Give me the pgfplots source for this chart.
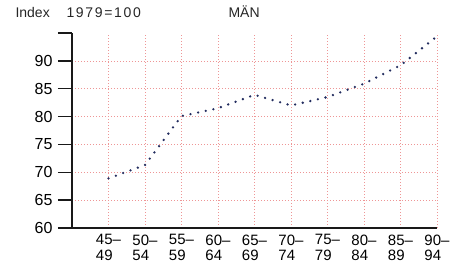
\documentclass[border=0pt]{standalone}
\usepackage{fontspec}
\setmainfont{Liberation Sans}
\usepackage{pgfplots}
\pgfplotsset{compat=1.18}
\definecolor{dotblue}{RGB}{35,45,95}
\definecolor{gridred}{RGB}{238,150,150}
\begin{document}
\begin{tikzpicture}
\useasboundingbox (-72pt,-37pt) rectangle (387pt,228pt);
\begin{axis}[
  at={(0,0)}, anchor=south west,
  scale only axis, width=365pt, height=195pt,
  xmin=-1, xmax=9, ymin=60, ymax=95,
  axis x line=bottom, axis y line=left,
  axis line style={-, line width=1.6pt, black!90},
  xtick={0,...,9},
  xticklabels={45--\\49,50--\\54,55--\\59,60--\\64,65--\\69,70--\\74,75--\\79,80--\\84,85--\\89,90--\\94},
  xticklabel style={align=left, font=\fontsize{15}{15.5}\selectfont, anchor=north, yshift=11pt},
  x tick style={draw=none},
  ytick={60,65,...,90},
  extra y ticks={95}, extra y tick labels={}, extra y tick style={grid=none},
  yticklabel style={font=\fontsize{16}{18}\selectfont, xshift=-2pt},
  y tick style={line width=1.4pt, black!90},
  tick align=outside, major tick length=14pt,
  /pgf/number format/assume math mode=true,
  xmajorgrids, ymajorgrids,
  grid style={gridred, line width=0.45pt, dash pattern=on 0.5pt off 2.5pt},
  clip=false,
]
\addplot[dotblue, line width=2.6pt, line cap=round, dash pattern=on 0pt off 7.8pt] coordinates {
  (0,68.9) (1,71.3) (2,80.1) (3,81.5) (4,83.9) (5,82.0) (6,83.5) (7,85.9) (8,89.2) (9,94.4)
};
\end{axis}
\node[anchor=base west, font=\fontsize{14}{16}\selectfont, text=black!85] at (-60pt,210pt) {Index};
\node[anchor=base west, font=\fontsize{14}{16}\selectfont\addfontfeature{LetterSpace=12}, text=black!85] at (-9pt,210pt) {1979=100};
\node[anchor=base west, font=\fontsize{14}{16}\selectfont, text=black!85] at (153pt,210pt) {MÄN};
\end{tikzpicture}
\end{document}
